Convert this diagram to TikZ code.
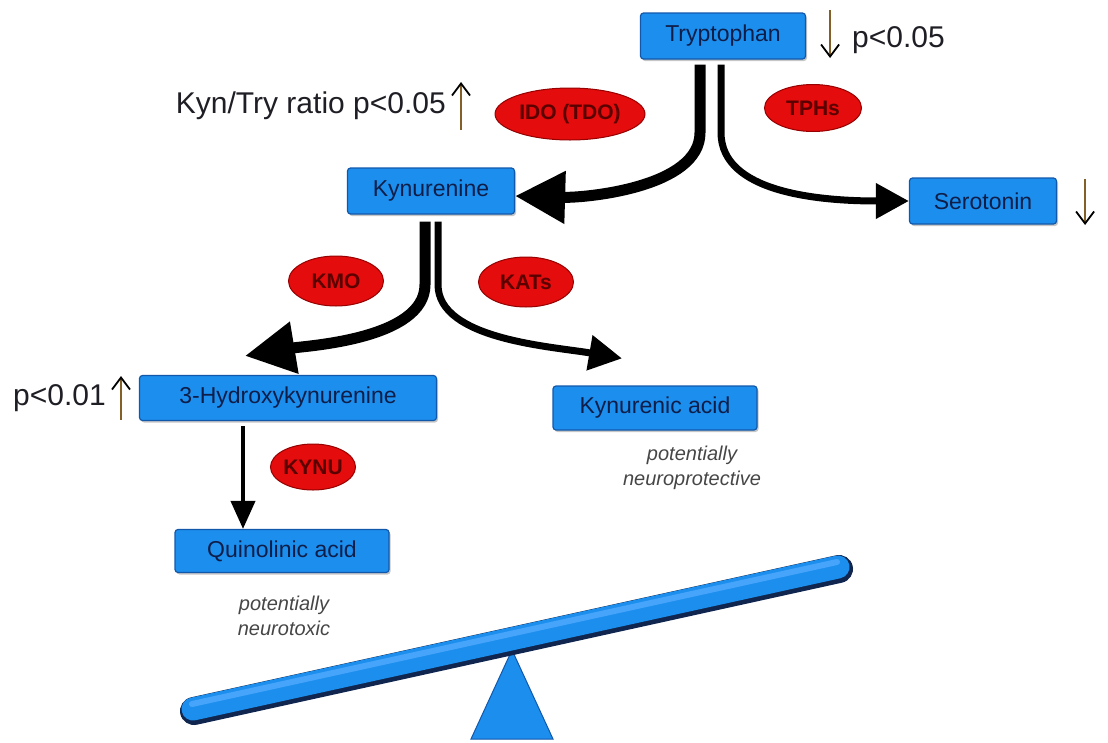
\documentclass[tikz,border=0pt]{standalone}
\usepackage{fontspec}
\setmainfont{Liberation Sans}
\usepackage{tikz}
\usetikzlibrary{arrows.meta,calc,positioning,shapes.geometric,shadows}
\definecolor{kpBlue}{RGB}{28,142,238}
\definecolor{kpEdge}{RGB}{18,88,170}
\definecolor{kpNavy}{RGB}{14,30,72}
\definecolor{kpRed}{RGB}{228,12,12}
\definecolor{kpRedEdge}{RGB}{150,0,0}
\definecolor{kpRedInk}{RGB}{90,0,0}
\definecolor{kpInk}{RGB}{30,30,36}
\definecolor{kpShaft}{RGB}{130,96,40}
\definecolor{kpGrey}{RGB}{70,70,70}
\definecolor{kpShade}{RGB}{16,38,78}
\definecolor{kpLight}{RGB}{70,165,250}
\newcommand{\enzymechip}[5]{%
  \node[
    ellipse,
    draw=kpRedEdge,
    fill=kpRed,
    line width=1pt,
    inner sep=0pt,
    minimum width=#3pt,
    minimum height=#4pt,
    font=\fontsize{21}{24}\selectfont\bfseries\color{kpRedInk}
  ] (#1) at #2 {#5};
}

\begin{document}
\begin{tikzpicture}[x=1pt,y=-1pt,
  metab/.style={draw=kpEdge,fill=kpBlue,line width=1.2pt,rounded corners=3pt,
    minimum height=46pt,inner sep=2pt,font=\fontsize{23}{26}\selectfont\color{kpNavy},
    drop shadow={shadow xshift=1.5pt,shadow yshift=-2pt,opacity=.45}},
  note/.style={font=\fontsize{30}{35}\selectfont\color{kpInk},inner sep=0pt},
  remark/.style={font=\fontsize{20}{25}\selectfont\itshape\color{kpGrey},align=center,inner sep=0pt},
  trend/.style={draw=kpShaft,line width=1.8pt,
    -{Straight Barb[black,length=12pt,width=18pt,line width=1.8pt]}},
  majorflow/.style={line width=11pt,-{Triangle[length=50pt,width=50pt]}},
  minorflow/.style={line width=7pt,-{Triangle[length=33pt,width=34pt]}}]
  \useasboundingbox (0,0) rectangle (1108,742);

  % metabolites
  \node[metab,minimum width=165pt] (trp) at (723,36) {Tryptophan};
  \node[metab,minimum width=167pt] (kyn) at (431,191) {Kynurenine};
  \node[metab,minimum width=147pt] (ser) at (983,201) {Serotonin};
  \node[metab,minimum width=297pt,minimum height=45pt] (hk) at (288,398) {3-Hydroxykynurenine};
  \node[metab,minimum width=204pt,minimum height=44pt] (kyna) at (655,408) {Kynurenic acid};
  \node[metab,minimum width=214pt,minimum height=43pt] (quin) at (282,551) {Quinolinic acid};
  \node[remark] (kynarem) at (692,468) {potentially\\neuroprotective};
  \node[remark] (quinrem) at (284,616) {potentially\\neurotoxic};

  % enzymes
  \enzymechip{ido}{(570,114)}{150}{52}{IDO (TDO)}
  \enzymechip{tph}{(813,108)}{97}{47}{TPHs}
  \enzymechip{kmo}{(336,281)}{95}{50}{KMO}
  \enzymechip{kat}{(526,282)}{95}{50}{KATs}
  \enzymechip{kynu}{(313,467)}{85}{46}{KYNU}

  % flows
  \draw[majorflow] ($(trp.south)+(-23,5)$) -- ++(0,68)
    .. controls +(0,55) and +(70,2) .. ($(kyn.east)+(0,5)$);
  \draw[minorflow] ($(trp.south)+(-2,5)$) -- ++(0,68)
    .. controls +(0,60) and +(-90,0) .. (ser.west);
  \draw[majorflow] ($(kyn.south)+(-6,7)$) -- ++(0,63)
    .. controls +(0,55) and +(60,-10) .. ($(hk.north)+(-43,-19)$);
  \draw[minorflow] ($(kyn.south)+(7,7)$) -- ++(0,63)
    .. controls +(0,55) and +(-70,-12) .. ($(kyna.north)+(-33,-27)$);
  \coordinate (hkq) at ($(hk.south)+(-45,5)$);
  \draw[line width=4pt,-{Triangle[length=28pt,width=24pt]}] (hkq) -- (hkq |- quin.north);

  % changes
  \node[note,anchor=west] (trpp) at (852,40) {p<0.05};
  \draw[trend] ($(trp.east)+(24,-26)$) -- ++(0,48);
  \node[note,anchor=east] (ratio) at (446,106) {Kyn/Try ratio p<0.05};
  \draw[trend] ($(ratio.east)+(15,24)$) -- ++(0,-48);
  \draw[trend] ($(ser.east)+(28,-22)$) -- ++(0,46);
  \node[note,anchor=east] (hkp) at (106,398) {p<0.01};
  \draw[trend] ($(hkp.east)+(15,22)$) -- ++(0,-44);

  % balance
  \fill[kpBlue,draw=kpEdge,line width=1pt] (512,650) -- (553,739) -- (471,739) -- cycle;
  \coordinate (beamL) at (193,709);
  \coordinate (beamR) at (838,567);
  \draw[kpShade,line width=28pt,line cap=round] ($(beamL)+(1,2)$) -- ($(beamR)+(1,2)$);
  \draw[kpBlue,line width=23pt,line cap=round] (beamL) -- (beamR);
  \draw[kpLight,line width=6pt,line cap=round] ($(beamL)+(-1,-5)$) -- ($(beamR)+(-1,-5)$);
\end{tikzpicture}
\end{document}
